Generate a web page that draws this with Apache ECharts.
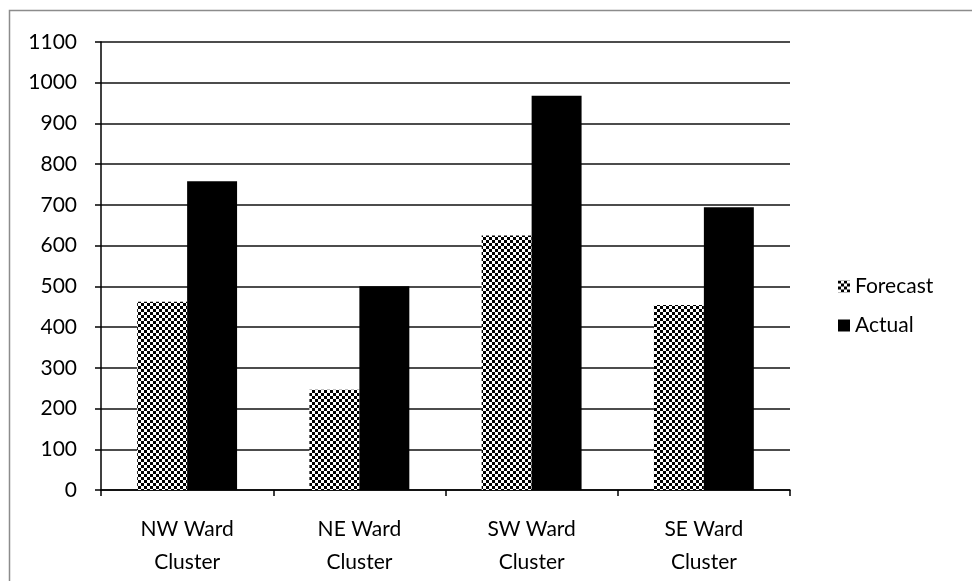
<!DOCTYPE html>
<html>
<head>
<meta charset="utf-8">
<script src="https://cdn.jsdelivr.net/npm/echarts@6/dist/echarts.min.js"></script>
<style>html,body{margin:0;padding:0;background:#fff;}#chart{width:972px;height:581px;}</style>
</head>
<body>
<div id="chart"></div>
<script>
var categories = ['NW Ward\nCluster', 'NE Ward\nCluster', 'SW Ward\nCluster', 'SE Ward\nCluster'];
var forecast = [462, 246, 625, 454];
var actual = [758, 500, 968, 694];
var yTicks = [0, 1100, 100];

var tile = document.createElement('canvas');
tile.width = 6; tile.height = 6;
var ctx = tile.getContext('2d');
ctx.fillStyle = '#fff'; ctx.fillRect(0, 0, 6, 6);
ctx.fillStyle = '#000';
ctx.fillRect(0, 0, 3, 3);
ctx.fillRect(3, 3, 3, 3);
var checker = { image: tile, repeat: 'repeat' };

var FONT = 'Lato';
var FS = 21;
var chart = echarts.init(document.getElementById('chart'));
chart.setOption({
  animation: false,
  backgroundColor: '#fff',
  textStyle: { fontFamily: FONT, color: '#000' },
  graphic: [{
    type: 'rect', silent: true,
    shape: { x: 9.5, y: 10.5, width: 1000, height: 1000 },
    style: { fill: 'none', stroke: '#8c8c8c', lineWidth: 1.5 }
  }],
  grid: { left: 101, right: 182, top: 42, bottom: 91 },
  legend: {
    orient: 'vertical', left: 833, top: 271,
    itemWidth: 12, itemHeight: 12, itemGap: 18,
    icon: 'rect',
    textStyle: { fontFamily: FONT, fontSize: FS, color: '#000', padding: [0, 0, 0, 0] },
    data: ['Forecast', 'Actual']
  },
  xAxis: {
    type: 'category', data: categories,
    axisLine: { lineStyle: { color: '#000', width: 1.5 } },
    axisTick: { show: true, length: 6, lineStyle: { color: '#000', width: 1.5 } },
    axisLabel: { fontFamily: FONT, fontSize: FS, color: '#000', margin: 23, lineHeight: 33, interval: 0 }
  },
  yAxis: {
    type: 'value', min: yTicks[0], max: yTicks[1], interval: yTicks[2],
    axisLine: { show: true, lineStyle: { color: '#000', width: 1.5 } },
    axisTick: { show: true, length: 6, lineStyle: { color: '#000', width: 1.5 } },
    axisLabel: { fontFamily: FONT, fontSize: FS, color: '#000', margin: 24,
      formatter: function (v) { return String(v); } },
    splitLine: { lineStyle: { color: '#111', width: 1.6 } }
  },
  series: [
    { name: 'Forecast', type: 'bar', data: forecast, barGap: '0%', barCategoryGap: '42%',
      itemStyle: { color: checker } },
    { name: 'Actual', type: 'bar', data: actual, barGap: '0%', barCategoryGap: '42%',
      itemStyle: { color: '#000' } }
  ]
});
</script>
</body>
</html>
